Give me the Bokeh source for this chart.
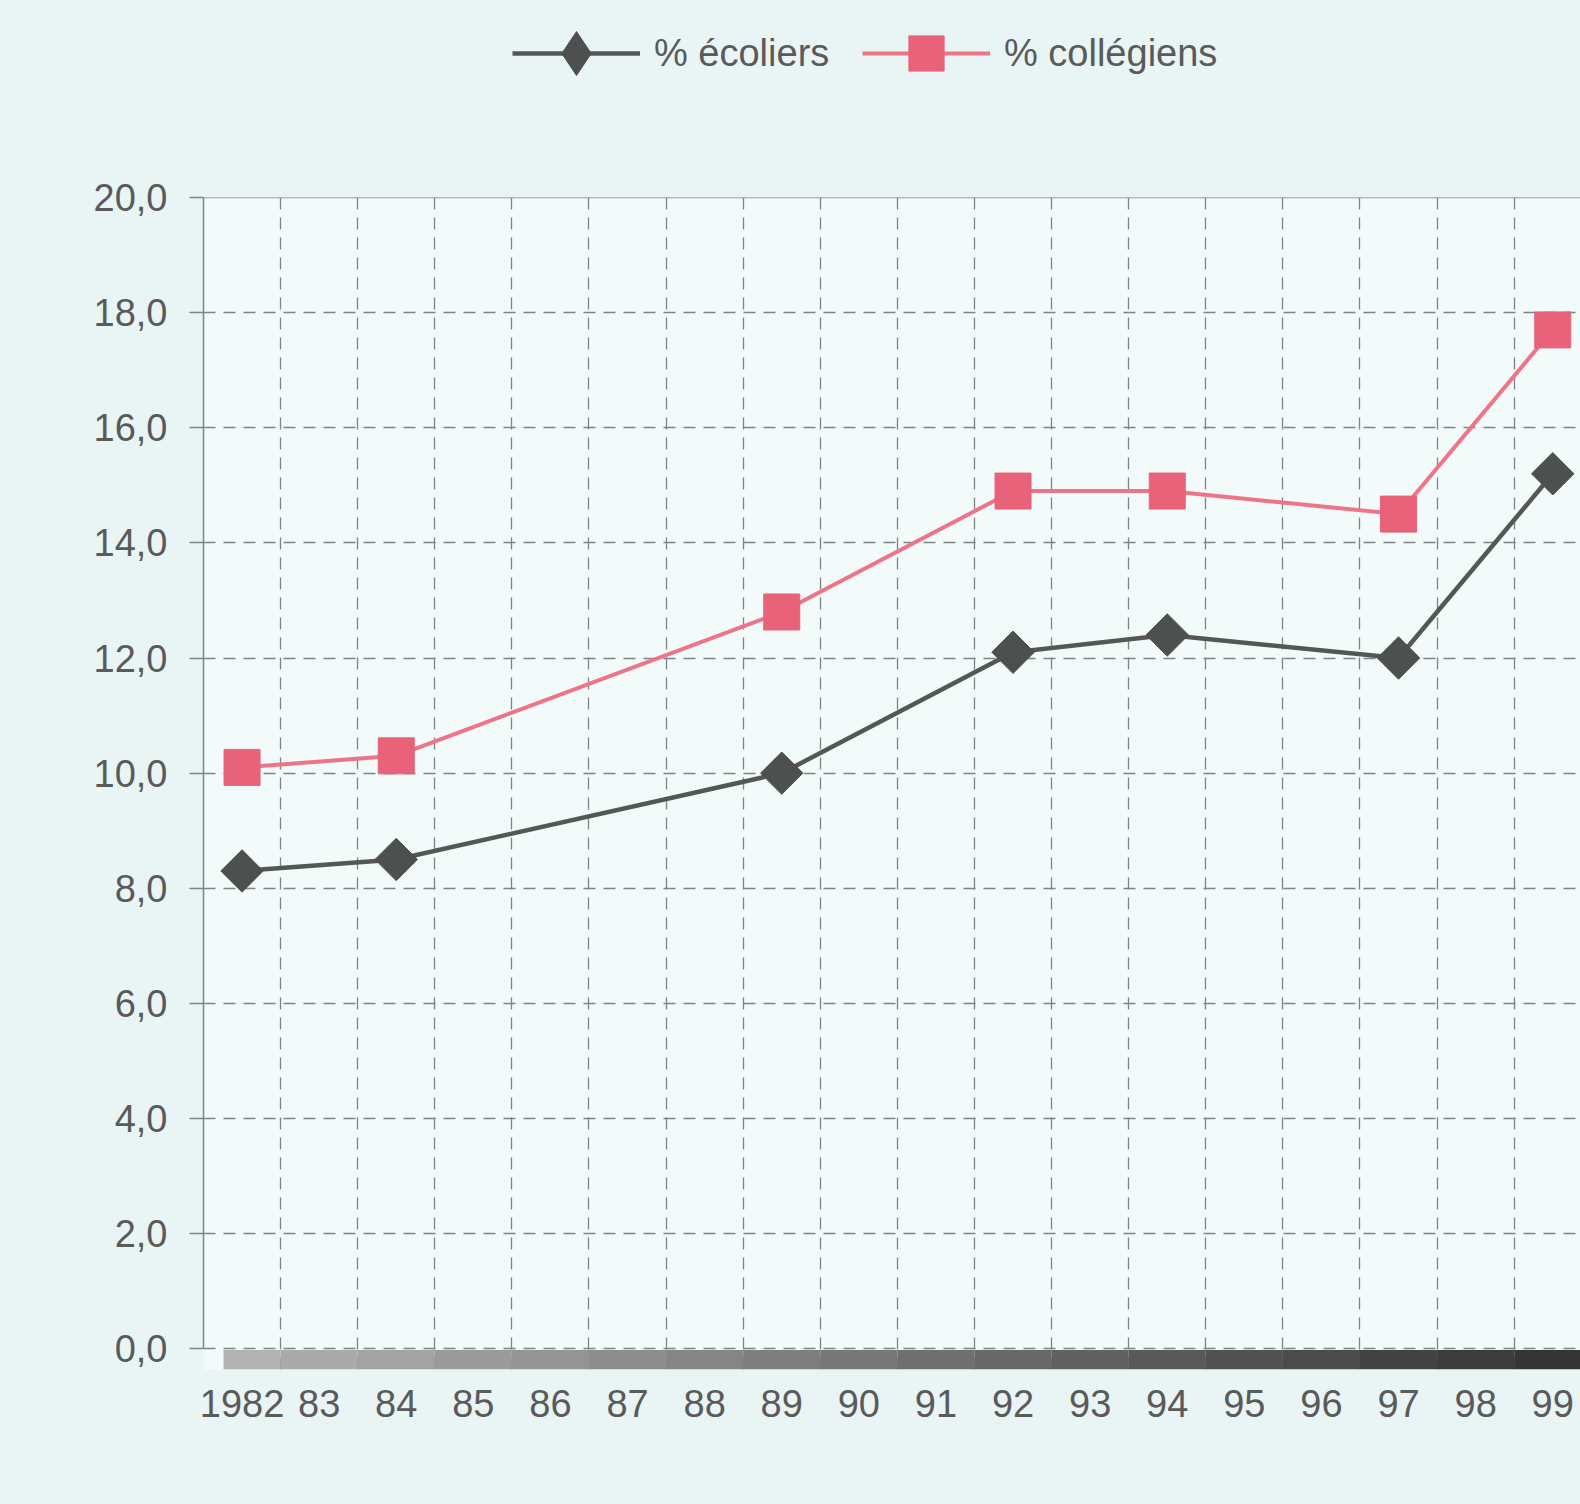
import math
from bokeh.plotting import figure
from bokeh.layouts import column
from bokeh.models import Range1d, FixedTicker, Legend, LegendItem, Span
from bokeh.embed import file_html
from bokeh.resources import INLINE

# ---- data ----
years = ["1982", "83", "84", "85", "86", "87", "88", "89", "90",
         "91", "92", "93", "94", "95", "96", "97", "98", "99"]
point_years = ["1982", "84", "89", "92", "94", "97", "99"]
ecoliers = [8.3, 8.5, 10.0, 12.1, 12.4, 12.0, 15.2]
collegiens = [10.1, 10.3, 12.8, 14.9, 14.9, 14.5, 17.7]
y_ticks = [0, 2, 4, 6, 8, 10, 12, 14, 16, 18, 20]
y_labels = ["0,0", "2,0", "4,0", "6,0", "8,0", "10,0", "12,0", "14,0", "16,0", "18,0", "20,0"]
series_names = ["% écoliers", "% collégiens"]

FONT = "Liberation Sans"
TXT = "#5a5a5a"
BG = "#e9f4f4"
GRAY_LINE = "#555757"
GRAY_MARK = "#4e5050"
PINK_LINE = "#ee7588"
PINK_MARK = "#e8627a"

xs = [years.index(y) for y in point_years]

FRAME_LEFT = 203

# ---------- legend strip (top) ----------
LEG_H = 150
leg = figure(width=1580, height=LEG_H, output_backend="svg", toolbar_location=None,
             x_range=Range1d(100, 101), y_range=Range1d(100, 101),
             min_border=0, min_border_left=0, min_border_right=0,
             min_border_top=0, min_border_bottom=0)
leg.axis.visible = False
leg.grid.visible = False
leg.outline_line_color = None
leg.background_fill_alpha = 0
leg.border_fill_color = BG
# renderers only serve the legend (their data lie outside this strip's view)
ll1 = leg.line(xs, ecoliers, line_color=GRAY_LINE, line_width=4.5)
lm1 = leg.scatter(xs, ecoliers, marker="diamond", size=10,
                  fill_color=GRAY_MARK, line_color=GRAY_MARK)
ll2 = leg.line(xs, collegiens, line_color=PINK_LINE, line_width=4)
lm2 = leg.scatter(xs, collegiens, marker="square", size=10,
                  fill_color=PINK_MARK, line_color=PINK_MARK)

ROW_CY = 53
common = dict(orientation="horizontal", glyph_width=128,
              label_text_font=FONT, label_text_font_size="38px", label_text_color=TXT,
              label_standoff=14, spacing=0, padding=0, margin=0,
              background_fill_alpha=0, border_line_color=None)
gh1 = 110
gh2 = 88
legend1 = Legend(items=[LegendItem(label=series_names[0], renderers=[ll1, lm1])],
                 location=(512 - FRAME_LEFT, LEG_H - ROW_CY - gh1 / 2),
                 glyph_height=gh1, label_height=gh1, **common)
legend2 = Legend(items=[LegendItem(label=series_names[1], renderers=[ll2, lm2])],
                 location=(862 - FRAME_LEFT, LEG_H - ROW_CY - gh2 / 2),
                 glyph_height=gh2, label_height=gh2, **common)
leg.add_layout(legend1)
leg.add_layout(legend2)

# ---------- main chart ----------
TOP = 197 - LEG_H
p = figure(width=1580, height=1504 - LEG_H, output_backend="svg", toolbar_location=None,
           x_range=Range1d(-0.5, 17.36), y_range=Range1d(-0.36, 20),
           min_border_left=FRAME_LEFT, min_border_right=0, min_border_top=TOP,
           min_border_bottom=135)
p.background_fill_color = "#f2fafa"
p.border_fill_color = BG
p.outline_line_color = None

# axes
p.xaxis.ticker = FixedTicker(ticks=list(range(len(years))))
p.xaxis.major_label_overrides = {i: y for i, y in enumerate(years)}
p.xaxis.axis_line_color = None
p.xaxis.major_tick_line_color = None
p.xaxis.minor_tick_line_color = None
p.xaxis.major_label_text_font = FONT
p.xaxis.major_label_text_font_size = "38px"
p.xaxis.major_label_text_color = TXT
p.xaxis.major_label_standoff = 14

p.yaxis.ticker = FixedTicker(ticks=y_ticks)
p.yaxis.bounds = (0, 20)
p.yaxis.major_label_overrides = {t: l for t, l in zip(y_ticks, y_labels)}
p.yaxis.axis_line_color = "#7f8485"
p.yaxis.axis_line_width = 1.5
p.yaxis.major_tick_line_color = "#7f8485"
p.yaxis.major_tick_line_width = 1.5
p.yaxis.major_tick_out = 14
p.yaxis.major_tick_in = 0
p.yaxis.minor_tick_line_color = None
p.yaxis.major_label_text_font = FONT
p.yaxis.major_label_text_font_size = "38px"
p.yaxis.major_label_text_color = TXT
p.yaxis.major_label_standoff = 22

# grids
p.xgrid.ticker = FixedTicker(ticks=[i + 0.5 for i in range(len(years))])
p.xgrid.grid_line_color = "#7d8485"
p.xgrid.grid_line_dash = "12 8"
p.xgrid.grid_line_width = 1.3
p.ygrid.grid_line_color = "#7d8485"
p.ygrid.grid_line_dash = "12 8"
p.ygrid.grid_line_width = 1.3

# top border of the plot area
p.add_layout(Span(location=20, dimension="width", line_color="#7f8485", line_width=1.5))

# 3D floor bar below the zero line
n = len(years)
lefts = [i - 0.5 for i in range(n)]
lefts[0] = -0.24
rights = [i + 0.5 for i in range(n)]
cols = []
for i in range(n):
    t = i / (n - 1)
    g = int(178 - 125 * t)
    cols.append("#%02x%02x%02x" % (g, g, g))
p.quad(left=lefts, right=rights, bottom=[-0.36] * n, top=[-0.02] * n,
       fill_color=cols, line_color=None)

# series
p.line(xs, ecoliers, line_color=GRAY_LINE, line_width=4.5)
p.scatter(xs, ecoliers, marker="square", angle=math.pi / 4, size=30,
          fill_color=GRAY_MARK, line_color=GRAY_MARK)
p.line(xs, collegiens, line_color=PINK_LINE, line_width=4)
p.scatter(xs, collegiens, marker="square", size=36,
          fill_color=PINK_MARK, line_color=PINK_MARK)

layout = column(leg, p, spacing=0, styles={"background-color": BG})
open("out.html", "w").write(file_html(layout, INLINE))
